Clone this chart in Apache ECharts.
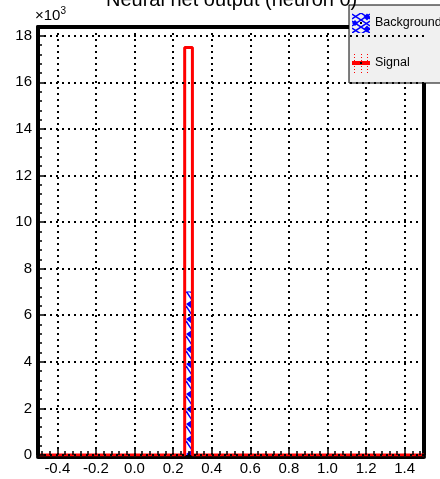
<!DOCTYPE html>
<html>
<head>
<meta charset="utf-8">
<script src="https://cdn.jsdelivr.net/npm/echarts@6/dist/echarts.min.js"></script>
<style>
html,body{margin:0;padding:0;background:#fff;}
#chart{width:440px;height:479px;}
</style>
</head>
<body>
<div id="chart"></div>
<script>
// ---- data ----
const binLow = -0.5;
const binWidth = 0.04;
const signalValues = [
  0,0,0,0,0,0,0,0,0,0,
  0,0,0,0,0,0,0,0,0,17500,
  0,0,0,0,0,0,0,0,0,0,
  0,0,0,0,0,0,0,0,0,0,
  0,0,0,0,0,0,0,0,0,0
];
const backgroundValues = [
  0,0,0,0,0,0,0,0,0,0,
  0,0,0,0,0,0,0,0,0,7000,
  0,0,0,0,0,0,0,0,0,0,
  0,0,0,0,0,0,0,0,0,0,
  0,0,0,0,0,0,0,0,0,0
];
const xMajorTicks = [-0.4,-0.2,0.0,0.2,0.4,0.6,0.8,1.0,1.2,1.4];
const yMajorTicks = [0,2000,4000,6000,8000,10000,12000,14000,16000,18000];
const yMax = 18375;

const r = v => Math.round(v * 10000) / 10000;
const xMinorTicks = [];
for (let k = -12; k <= 37; k++) { const v = r(k * 0.04); if (v > -0.5 && v < 1.5 && Math.abs(v / 0.2 - Math.round(v / 0.2)) > 1e-6) xMinorTicks.push(v); }
const yMinorTicks = [];
for (let v = 400; v < yMax; v += 400) { if (v % 2000 !== 0) yMinorTicks.push(v); }

function stepData(vals) {
  const d = vals.map((v, i) => [r(binLow + i * binWidth), v]);
  d.push([r(binLow + vals.length * binWidth), vals[vals.length - 1]]);
  return d;
}

// ---- patterns ----
function hatchCanvas(w, h) {
  const c = document.createElement('canvas');
  c.width = w; c.height = h;
  const g = c.getContext('2d');
  g.strokeStyle = '#0000ff'; g.fillStyle = '#0000ff'; g.lineWidth = 1.5;
  g.beginPath(); g.moveTo(0, 6); g.lineTo(w, h); g.stroke();
  g.beginPath(); g.moveTo(w, 0); g.lineTo(0, 4); g.lineTo(w, 9); g.closePath(); g.fill();
  return c;
}
const bgPattern = hatchCanvas(6, 15);

function bgIcon() {
  const c = document.createElement('canvas'); c.width = 18; c.height = 20;
  const g = c.getContext('2d');
  g.fillStyle = '#0000ff'; g.strokeStyle = '#0000ff'; g.lineWidth = 1.5;
  for (let y = -20; y < 40; y += 7) { g.beginPath(); g.moveTo(0, y); g.lineTo(18, y + 12); g.stroke(); }
  for (let y = -20; y < 40; y += 7) { g.beginPath(); g.moveTo(18, y); g.lineTo(0, y + 12); g.stroke(); }
  const diam = (x, y, s) => { g.beginPath(); g.moveTo(x, y - s); g.lineTo(x + s, y); g.lineTo(x, y + s); g.lineTo(x - s, y); g.closePath(); g.fill(); };
  diam(15, 4, 3.5); diam(15, 16, 3.5); diam(3, 10, 3);
  g.fillStyle = '#000'; g.fillRect(8, 9, 2, 2);
  return c.toDataURL();
}
function sigIcon() {
  const c = document.createElement('canvas'); c.width = 18; c.height = 20;
  const g = c.getContext('2d');
  g.fillStyle = '#ff0000';
  for (let y = 1; y < 20; y += 3) { g.fillRect(2, y, 1, 1); g.fillRect(15, y, 1, 1); g.fillRect(9, y, 1, 1); }
  g.fillRect(0, 8, 18, 4);
  g.fillStyle = '#000'; g.fillRect(8, 9, 2, 2);
  return c.toDataURL();
}

const FONT = "'Liberation Sans', Arial, Helvetica, sans-serif";
const chart = echarts.init(document.getElementById('chart'));
const dotted = { show: true, lineStyle: { color: '#000', width: 2, type: [2, 4] } };
const frameLine = { show: true, onZero: false, lineStyle: { color: '#000', width: 4 } };
const noLine = { show: false, onZero: false };

chart.setOption({
  animation: false,
  textStyle: { fontFamily: FONT },
  title: {
    text: 'Neural net output (neuron 0)',
    left: 101, top: -15,
    textStyle: { fontSize: 20, fontWeight: 'normal', color: '#000', fontFamily: FONT }
  },
  legend: {
    orient: 'vertical', left: 349, top: 5,
    backgroundColor: '#f0f0f0', borderColor: '#000', borderWidth: 1, borderRadius: 0,
    padding: [8, 20, 10, 3], itemGap: 20, itemWidth: 18, itemHeight: 20,
    selectedMode: false,
    textStyle: { fontSize: 12.5, color: '#000', fontFamily: FONT },
    data: [
      { name: 'Background', icon: 'image://' + bgIcon() },
      { name: 'Signal', icon: 'image://' + sigIcon() }
    ]
  },
  grid: { left: 38, right: 16, top: 27, bottom: 24 },
  xAxis: [
    { type: 'value', position: 'bottom', min: -0.5, max: 1.5, z: 1, offset: 2,
      axisLine: frameLine,
      axisTick: { show: false, customValues: xMajorTicks },
      axisLabel: { show: false },
      splitLine: dotted },
    { type: 'value', position: 'bottom', min: -0.5, max: 1.5, z: 10,
      axisLine: noLine,
      axisTick: { show: true, inside: true, length: 8, customValues: xMajorTicks, lineStyle: { color: '#000', width: 1.5 } },
      axisLabel: { show: true, customValues: xMajorTicks, margin: 6, fontSize: 15, color: '#000', fontFamily: FONT,
        formatter: v => v.toFixed(1) },
      splitLine: { show: false } },
    { type: 'value', position: 'bottom', min: -0.5, max: 1.5, z: 10,
      axisLine: noLine,
      axisTick: { show: true, inside: true, length: 4, customValues: xMinorTicks, lineStyle: { color: '#000', width: 1.5 } },
      axisLabel: { show: false }, splitLine: { show: false } },
    { type: 'value', position: 'top', min: -0.5, max: 1.5,
      axisLine: frameLine,
      axisTick: { show: false }, axisLabel: { show: false }, splitLine: { show: false } }
  ],
  yAxis: [
    { type: 'value', position: 'left', min: 0, max: yMax, z: 10,
      name: '×10{sup|3}', nameLocation: 'end', nameGap: 1,
      nameTextStyle: { align: 'left', verticalAlign: 'bottom', fontSize: 15, color: '#000', fontFamily: FONT,
        padding: [0, 0, 0, -3],
        rich: { sup: { fontSize: 10, color: '#000', fontFamily: FONT, verticalAlign: 'bottom', padding: [0, 0, 10, 0] } } },
      axisLine: frameLine,
      axisTick: { show: true, inside: true, length: 8, customValues: yMajorTicks, lineStyle: { color: '#000', width: 1.5 } },
      axisLabel: { show: true, customValues: yMajorTicks, margin: 6, fontSize: 15, color: '#000', fontFamily: FONT,
        formatter: v => String(Math.round(v / 1000)) },
      splitLine: dotted },
    { type: 'value', position: 'left', min: 0, max: yMax, z: 10,
      axisLine: noLine,
      axisTick: { show: true, inside: true, length: 4, customValues: yMinorTicks, lineStyle: { color: '#000', width: 1.5 } },
      axisLabel: { show: false }, splitLine: { show: false } },
    { type: 'value', position: 'right', min: 0, max: yMax,
      axisLine: frameLine,
      axisTick: { show: false }, axisLabel: { show: false }, splitLine: { show: false } }
  ],
  series: [
    { name: 'Background', type: 'line', step: 'end', xAxisIndex: 0, yAxisIndex: 0, z: 3,
      showSymbol: false, symbol: 'none',
      lineStyle: { color: '#0000ff', width: 1 },
      itemStyle: { color: '#0000ff' },
      areaStyle: { color: { image: bgPattern, repeat: 'repeat' }, opacity: 1 },
      data: stepData(backgroundValues) },
    { name: 'Signal', type: 'line', step: 'end', xAxisIndex: 0, yAxisIndex: 0, z: 4,
      showSymbol: false, symbol: 'none',
      lineStyle: { color: '#ff0000', width: 3 },
      itemStyle: { color: '#ff0000' },
      data: stepData(signalValues) }
  ]
});
</script>
</body>
</html>
